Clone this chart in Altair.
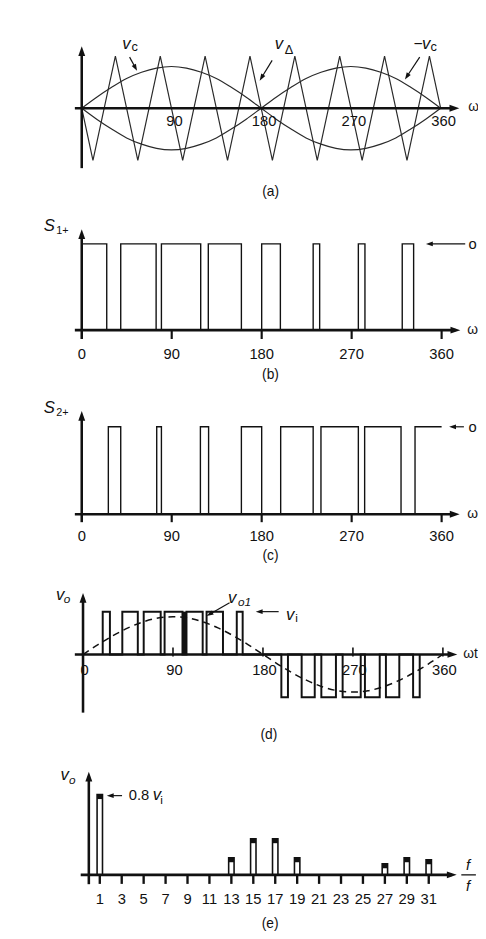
import math
import altair as alt
import pandas as pd

FONT = "Liberation Sans"
INK = "#111111"
GREY = "#2a2a2a"
HEAD = "M0,-1L0.7,1L-0.7,1Z"

# ---------------- data ----------------
# (a) carrier triangle vertices (deg, value) and control sine
tri_deg = [0, 11.25, 33.75, 56.25, 78.75, 101.25, 123.75, 146.25, 168.75,
           191.25, 213.75, 236.25, 258.75, 281.25, 303.75, 326.25, 348.75, 360]
tri_val = [0, -1, 1, -1, 1, -1, 1, -1, 1, -1, 1, -1, 1, -1, 1, -1, 1, 0]
sine_deg = [0, 15, 30, 45, 60, 75, 90, 105, 120, 135, 150, 165, 180,
            195, 210, 225, 240, 255, 270, 285, 300, 315, 330, 345, 360]
vc_val = [0.0, 0.21, 0.40, 0.57, 0.69, 0.77, 0.80, 0.77, 0.69, 0.57, 0.40, 0.21, 0.0,
          -0.21, -0.40, -0.57, -0.69, -0.77, -0.80, -0.77, -0.69, -0.57, -0.40, -0.21, 0.0]
deg_ticks = [0, 90, 180, 270, 360]

# (b) S1+ on intervals (deg)
s1_on = [0, 39, 79.7, 126.6, 180, 231.5, 276.7, 320.6]
s1_off = [25, 74.4, 119, 159.7, 198.7, 238, 283.3, 332]

# (c) S2+ on intervals (deg); last one stays on to 360
s2_on = [26.6, 75, 118.7, 159.7, 199, 239.3, 283, 333.4]
s2_off = [39, 79.7, 126.9, 180, 231.5, 276.7, 319.4, 360]

# (d) output pulses (deg)
vo_pos_on = [19.7, 39.3, 60.7, 81.6, 103.5, 123.6, 153.8]
vo_pos_off = [26.9, 54.8, 77.7, 99.5, 119.7, 140, 159.7]
vo_neg_on = [198.4, 218.7, 238.4, 259.7, 282, 303, 330.2]
vo_neg_off = [205, 231.8, 253, 277.8, 296.8, 316.4, 336.8]
vo_block = [99.5, 103.5]
vo1_val = [0.0, 0.23, 0.44, 0.62, 0.76, 0.85, 0.88, 0.85, 0.76, 0.62, 0.44, 0.23, 0.0,
           -0.23, -0.44, -0.62, -0.76, -0.85, -0.88, -0.85, -0.76, -0.62, -0.44, -0.23, 0.0]

# (e) harmonic spectrum
harm_order = [1, 13, 15, 17, 19, 27, 29, 31]
harm_amp = [0.80, 0.17, 0.36, 0.36, 0.17, 0.11, 0.17, 0.15]
harm_ticks = list(range(1, 32, 2))


# ---------------- helpers ----------------
class Panel:
    def __init__(self, xdom, xr, ydom, yr):
        self.xs = alt.Scale(domain=list(xdom), range=list(xr), nice=False, zero=False)
        self.ys = alt.Scale(domain=list(ydom), range=list(yr), nice=False, zero=False)
        self.kx = (xr[1] - xr[0]) / (xdom[1] - xdom[0])
        self.ky = (yr[0] - yr[1]) / (ydom[1] - ydom[0])
        self.layers = []

    def enc(self, **kw):
        return dict(x=alt.X("x:Q", scale=self.xs, axis=None),
                    y=alt.Y("y:Q", scale=self.ys, axis=None), **kw)

    def line(self, xs, ys, group="a", **mk):
        df = pd.DataFrame({"x": xs, "y": ys, "i": range(len(xs)), "s": group})
        self.layers.append(alt.Chart(df).mark_line(**mk).encode(
            **self.enc(order=alt.Order("i:Q"), detail="s:N")))

    def rules(self, rows, width=2.6, color=INK):
        df = pd.DataFrame(rows, columns=["x", "y", "x2", "y2"])
        self.layers.append(alt.Chart(df).mark_rule(color=color, strokeWidth=width).encode(
            **self.enc(x2="x2:Q", y2="y2:Q")))

    def heads(self, rows, size=100):
        df = pd.DataFrame(rows, columns=["x", "y", "angle"])
        self.layers.append(alt.Chart(df).mark_point(
            shape=HEAD, filled=True, size=size, color=INK, opacity=1, strokeWidth=0).encode(
            **self.enc(angle=alt.Angle("angle:Q", scale=None))))

    def arrows(self, rows, size=49, width=1.2):
        s = math.sqrt(size) / 2
        lines, hds = [], []
        for (x1, y1, x2, y2) in rows:
            dx = (x2 - x1) * self.kx
            dy = -(y2 - y1) * self.ky
            L = math.hypot(dx, dy)
            ux, uy = dx / L, dy / L
            ang = math.degrees(math.atan2(ux, -uy)) % 360
            cx = x2 - s * ux / self.kx
            cy = y2 + s * uy / self.ky
            lines.append((x1, y1, cx, cy))
            hds.append((cx, cy, ang))
        self.rules(lines, width=width)
        self.heads(hds, size=size)

    def text(self, rows, size=15, style="normal", align="center", dx=0, color=INK):
        df = pd.DataFrame(rows, columns=["x", "y", "t"])
        self.layers.append(alt.Chart(df).mark_text(
            font=FONT, fontSize=size, fontStyle=style, align=align, baseline="middle",
            dx=dx, color=color).encode(**self.enc(text="t:N")))

    def chart(self):
        return alt.layer(*self.layers)


def pulse_path(on, off, level, open_last=False):
    xs, ys = [], []
    for k, (a, b) in enumerate(zip(on, off)):
        xs += [a, a, b]
        ys += [0, level, level]
        if not (open_last and k == len(on) - 1):
            xs.append(b)
            ys.append(0)
    return xs, ys


# ---------------- (a) ----------------
A = Panel((0, 360), (75, 440), (-1, 1), (147, 41))
A.line(tri_deg, tri_val, color=GREY, strokeWidth=1.2)
A.line(sine_deg, vc_val, group="vc", color=GREY, strokeWidth=1.2, interpolate="monotone")
A.line(sine_deg, [-v for v in vc_val], group="mvc", color=GREY, strokeWidth=1.2,
       interpolate="monotone")
A.rules([(-6.9, 0, 373.8, 0), (0, -1.15, 0, 1.096)])
A.heads([(373.8, 0, 90), (0, 1.096, 0)])
A.text([(d, -0.245, str(d)) for d in deg_ticks[1:]], size=15, dx=3)
A.text([(44.7, 1.232, "v"), (197.8, 1.232, "v"), (345.5, 1.232, "v")], size=17, style="italic")
A.text([(53.0, 1.17, "c"), (207.8, 1.12, "Δ"), (353.1, 1.17, "c")], size=13)
A.text([(337.3, 1.232, "−")], size=16)
A.arrows([(48.0, 0.981, 55.5, 0.717), (191.0, 0.919, 178.5, 0.528),
          (339.0, 0.981, 324.2, 0.553)])
A.text([(189.4, -1.604, "(a)")], size=14)
A.text([(387.6, 0.02, "ω")], size=14, align="left")

# ---------------- (b) ----------------
B = Panel((0, 360), (75, 441), (0, 1), (319.7, 232))
bx, by = pulse_path(s1_on, s1_off, 1)
B.line(bx, by, color=INK, strokeWidth=1.4)
B.rules([(-6.9, 0, 373.8, 0), (0, -0.103, 0, 1.114)])
B.rules([(d, 0, d, -0.103) for d in deg_ticks[1:]], width=2.2)
B.heads([(373.8, 0, 90), (0, 1.114, 0)])
B.text([(d, -0.277, str(d)) for d in deg_ticks], size=15)
B.text([(-32.5, 1.209, "S")], size=17, style="italic")
B.text([(-19.4, 1.152, "1+")], size=11)
B.arrows([(383.6, 1.0, 344.3, 1.0)])
B.text([(387.0, 1.0, "o")], size=15, align="left")
B.text([(385.6, 0, "ω")], size=14, align="left")
B.text([(188.8, -0.517, "(b)")], size=14)

# ---------------- (c) ----------------
C = Panel((0, 360), (75, 441), (0, 1), (507, 418))
cx_, cy_ = pulse_path(s2_on, s2_off, 1, open_last=True)
C.line(cx_, cy_, color=INK, strokeWidth=1.4)
C.rules([(-6.9, 0, 373.1, 0), (0, -0.09, 0, 1.124)])
C.rules([(d, 0, d, -0.09) for d in deg_ticks[1:]], width=2.2)
C.heads([(373.1, 0, 90), (0, 1.124, 0)])
C.text([(d, -0.244, str(d)) for d in deg_ticks], size=15)
C.text([(-32.5, 1.213, "S")], size=17, style="italic")
C.text([(-19.4, 1.157, "2+")], size=11)
C.arrows([(382.3, 1.0, 367.5, 1.0)])
C.text([(387.0, 1.0, "o")], size=15, align="left")
C.text([(385.6, 0, "ω")], size=14, align="left")
C.text([(188.8, -0.472, "(c)")], size=14)

# ---------------- (d) ----------------
D = Panel((0, 360), (76.3, 442.3), (-1, 1), (693, 606))
px1, py1 = pulse_path(vo_pos_on, vo_pos_off, 1)
px2, py2 = pulse_path(vo_neg_on, vo_neg_off, -1)
D.line(px1 + px2, py1 + py2, color=INK, strokeWidth=2.0)
blk = pd.DataFrame({"x": [vo_block[0]], "x2": [vo_block[1]], "y": [0], "y2": [1]})
D.layers.append(alt.Chart(blk).mark_rect(color=INK).encode(**D.enc(x2="x2:Q", y2="y2:Q")))
D.line(sine_deg, vo1_val, group="vo1", color=INK, strokeWidth=1.5, strokeDash=[7, 5],
       interpolate="monotone")
D.rules([(-8.2, 0, 369.5, 0), (0, -1.361, 0, 1.322)])
D.rules([(d, -0.05, d, 0.16) for d in deg_ticks[1:]], width=1.6)
D.heads([(369.5, 0, 90), (0, 1.322, 0)])
D.text([(d, -0.356, str(d)) for d in deg_ticks], size=15, dx=1.5)
D.text([(-22.9, 1.39, "v"), (149.2, 1.322, "v"), (207.2, 0.931, "v")], size=17, style="italic")
D.text([(-16.0, 1.299, "o"), (161.5, 1.23, "o1")], size=12, style="italic")
D.text([(213.6, 0.839, "i")], size=12)
D.arrows([(146.6, 1.207, 123.6, 0.901), (195.7, 1.0, 172.8, 1.0)])
D.text([(380.4, 0, "ωt")], size=14, align="left")
D.text([(185.9, -1.897, "(d)")], size=14)

# ---------------- (e) ----------------
E = Panel((0, 31), (77.2, 432.9), (0, 1), (873.7, 771.7))
hdf = pd.DataFrame({"x": harm_order, "y": harm_amp})
hdf["y0"] = 0.0
hdf["yc"] = hdf["y"] - 4.5 / E.ky
E.layers.append(alt.Chart(hdf).mark_bar(size=5.5, fill="white", stroke=INK, strokeWidth=1.6)
                .encode(**E.enc(y2="y0:Q")))
E.layers.append(alt.Chart(hdf).mark_bar(size=5.5, color=INK).encode(**E.enc(y2="yc:Q")))
E.rules([(-0.74, 0, 33.1, 0), (0, -0.093, 0, 0.98)])
E.rules([(n, 0, n, -0.09) for n in harm_ticks], width=2.4)
E.heads([(33.1, 0, 90), (0, 0.98, 0)])
E.text([(n, -0.245, str(n)) for n in harm_ticks], size=15)
E.text([(-2.2, 0.997, "v")], size=17, style="italic")
E.text([(-1.5, 0.948, "o")], size=12, style="italic")
E.arrows([(3.03, 0.79, 1.65, 0.79)])
E.text([(3.64, 0.791, "0.8")], size=15, align="left")
E.text([(5.82, 0.791, "v")], size=17, style="italic", align="left")
E.text([(6.52, 0.75, "i")], size=12, align="left")
E.rules([(33.97, 0, 35.3, 0)], width=1.3)
E.text([(34.58, 0.095, "f"), (34.58, -0.111, "f")], size=15, style="italic")
E.text([(16.54, -0.493, "(e)")], size=14)

chart = alt.layer(A.chart(), B.chart(), C.chart(), D.chart(), E.chart()).resolve_scale(
    x="independent", y="independent"
).properties(
    width=478, height=931, padding=0, background="white",
    autosize=alt.AutoSizeParams(type="none"),
).configure_view(stroke=None)

chart.save("out.html", embed_options={"renderer": "svg", "actions": False})
